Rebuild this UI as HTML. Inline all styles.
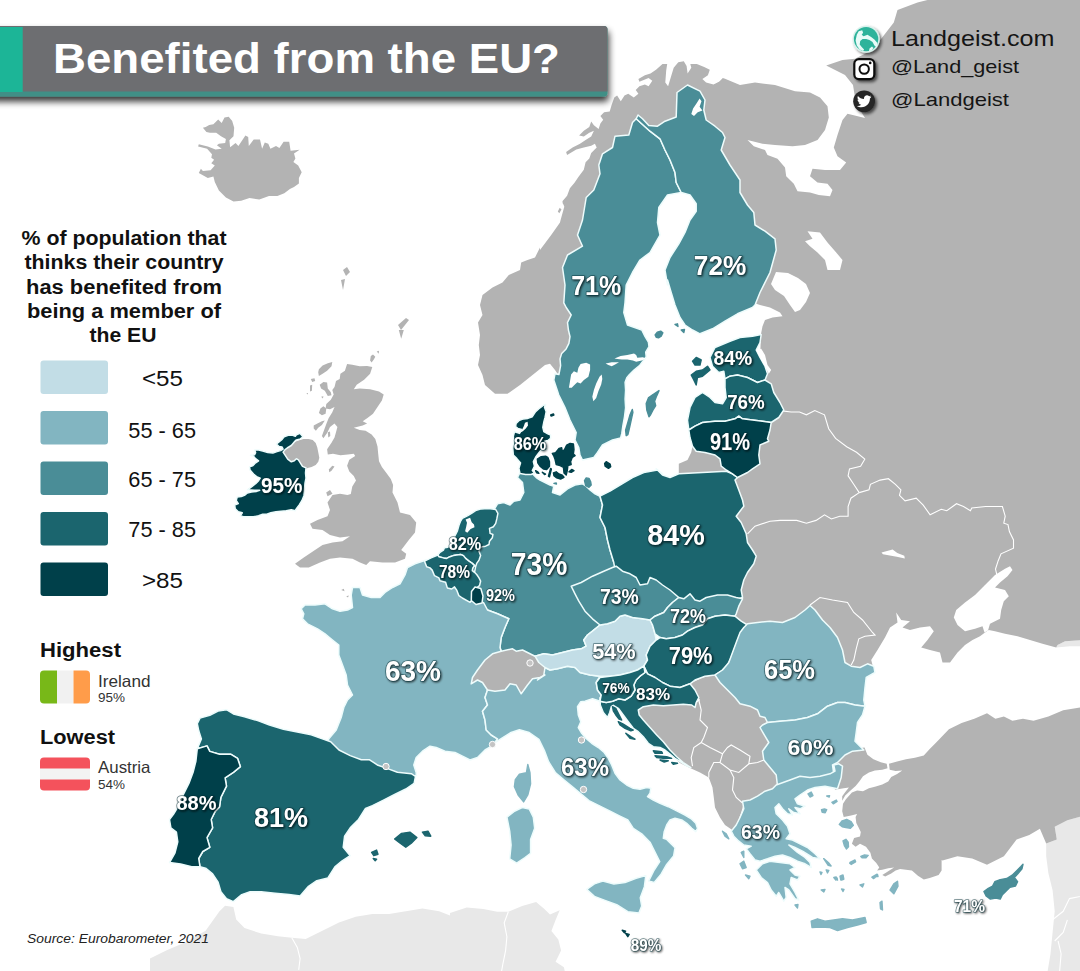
<!DOCTYPE html>
<html><head><meta charset="utf-8"><title>Benefited from the EU?</title>
<style>
html,body{margin:0;padding:0;background:#fff;}
body{width:1080px;height:971px;overflow:hidden;position:relative;font-family:"Liberation Sans",sans-serif;}
svg{position:absolute;left:0;top:0;display:block}
svg text{font-family:"Liberation Sans",sans-serif;}
.eu{stroke:#eefcfc;stroke-width:1.5;stroke-linejoin:round}
.lbl text{fill:#fff;font-weight:bold;paint-order:stroke;stroke:#0a3037;stroke-width:1.6px;stroke-opacity:.55;stroke-linejoin:round}
</style></head>
<body>
<svg width="1080" height="971" viewBox="0 0 1080 971">
<defs>
<filter id="sh" x="-5%" y="-30%" width="110%" height="180%"><feGaussianBlur in="SourceAlpha" stdDeviation="3.6"/><feOffset dx="1" dy="4.500"/><feComponentTransfer><feFuncA type="linear" slope=".8"/></feComponentTransfer><feMerge><feMergeNode/><feMergeNode in="SourceGraphic"/></feMerge></filter>
<filter id="ish" x="-40%" y="-40%" width="200%" height="200%"><feGaussianBlur in="SourceAlpha" stdDeviation="1.6"/><feOffset dx="2" dy="2"/><feComponentTransfer><feFuncA type="linear" slope=".6"/></feComponentTransfer><feMerge><feMergeNode/><feMergeNode in="SourceGraphic"/></feMerge></filter>
<filter id="tsh" x="-20%" y="-20%" width="140%" height="140%"><feGaussianBlur in="SourceAlpha" stdDeviation="1.1"/><feOffset dx="0.6" dy="0.8"/><feComponentTransfer><feFuncA type="linear" slope=".75"/></feComponentTransfer><feMerge><feMergeNode/><feMergeNode in="SourceGraphic"/></feMerge></filter>
</defs>
<rect width="1080" height="971" fill="#ffffff"/>
<g class="map">
<path d="M150,969.9 L150,958.5 L166.7,950.2 L186.1,941.9 L205.6,930.7 L219.5,911.3 L225.1,905.7 L233.4,907.1 L236.2,919.6 L244.5,928 L261.2,933.5 L277.9,936.3 L291.8,937.7 L305.7,939.1 L322.4,930.7 L339,922.4 L355.7,916.8 L372.4,914.1 L389.1,914.1 L405.8,911.3 L422.4,908.5 L439.1,911.3 L450,915.5 L450,913.1 L466.7,907.5 L483.3,908.9 L497.2,911.7 L508.3,911.7 L522.2,906.1 L536.1,901.9 L544.4,908.9 L550,914.4 L559.7,910.3 L555.6,920 L551.4,931.1 L558.3,939.4 L561.1,950.6 L555.6,961.7 L563.9,967.2 L566.7,980 L566,980 L150,980Z" fill="#e8e8e8" stroke="none"/>
<path d="M1046.2,843.6 L1056.8,839.4 L1054.7,826.7 L1067.4,820.3 L1090,814 L1090,980 L1046.2,980 L1050.5,953.7 L1052.6,932.5 L1054.7,911.3 L1052.6,890.2 L1048.4,873.2 L1046.2,856.3Z" fill="#e8e8e8" stroke="none"/>
<path d="M1057.5,645 L1065,641.2 L1090,639.5 L1090,646.2 L1070,646.2 L1056.2,647.5Z" fill="#e8e8e8" stroke="none"/>
<path d="M202.9,127.8 L205.7,127.1 L209.2,125 L213.4,124.3 L218.2,119.5 L221.7,122.9 L224.5,117.4 L228.7,116.7 L232.2,120.9 L234.2,127.8 L233.5,136.2 L229.4,140.3 L230.1,147.3 L235.6,143.1 L238.4,145.9 L245.4,135.5 L248.2,136.9 L248.8,145.9 L253.7,139.6 L260,139.6 L262.1,148.7 L264.8,142.4 L268.3,143.8 L270.4,148.7 L276,145.9 L279.4,148 L283.6,141.7 L289.2,141.7 L290.6,150.8 L299.6,149.8 L294,153.5 L295.4,158.4 L293.4,161.9 L298.2,165.4 L301.7,172.3 L298.9,177.9 L298.9,183.4 L294,186.9 L289.9,189 L284.3,193.2 L277.4,196 L269,196 L259.3,199.4 L249.5,198.1 L241.2,200.8 L233.5,201.5 L225.9,197.4 L218.9,190.4 L214.8,182.1 L213.4,176.5 L207.8,177.9 L198.8,173 L200.9,168.8 L202.9,170.9 L210.6,170.2 L214.8,165.4 L211.3,163.3 L214.1,159.8 L211.3,157.7 L212,154.2 L207.1,148.7 L198.1,146.6 L198.8,144.2 L207.8,146.6 L215.5,149.4 L221.7,148.7 L216.9,145.2 L218.9,143.8 L225.2,143.1 L225.9,138.9 L221,136.2 L216.2,132.7 L209.9,132.7 L206.4,132Z" fill="#b3b3b3" stroke="none"/>
<path d="M347.1,364.1 L352.3,364.8 L359.7,366.3 L367.1,366 L372.3,367.1 L370.1,373.7 L364.1,379.7 L356.7,384.8 L353.8,389.3 L359.7,388.6 L370.1,389.3 L379,391.5 L383.7,394.5 L381.9,400.4 L377.5,407.1 L373,413.8 L367.1,418.2 L362.7,421.2 L367.1,423.4 L362.7,425.6 L356.7,427.1 L353.8,427.8 L359.7,430.1 L365.6,430.8 L371.6,434.5 L375.3,439 L377.5,446.4 L378.2,453.8 L379,461.2 L381.9,467.1 L386.4,473.1 L390.8,479 L393.1,484.9 L392.5,492.5 L397.5,502.5 L400,512.5 L410,515 L416.2,522.5 L415,532.5 L408.8,540 L405,545 L401.2,550 L406.2,553.8 L405,558.8 L395,562.5 L382.5,562.5 L370,561.2 L366.2,565 L360,562.5 L352.5,558.8 L340,557.5 L330,558.8 L320,562.5 L308.8,567.5 L300,567.5 L295,563.8 L303.8,557.5 L315,550 L322.5,545 L332.5,542.5 L342.5,541.2 L350,536.2 L340,537.5 L330,535 L322.5,530 L312.5,528.8 L310,523.8 L317.5,520 L327.5,516.2 L330,510 L327.5,502.5 L332.5,495 L340,493.8 L347.5,495 L350.8,494 L352.3,486.4 L356,480.5 L353.8,476 L349.3,471.6 L347.1,465.7 L349.3,459.7 L355.2,456 L353.8,453.8 L347.8,454.5 L340.4,455.3 L333,453.8 L327.8,454.5 L327.1,449.3 L331.5,442.7 L334.5,437.5 L336,432.3 L337.4,427.1 L334.5,423.4 L330,427.1 L327.1,433 L323.4,438.2 L321.9,436 L324.1,430.1 L326.3,424.1 L328.6,418.2 L332.3,412.3 L334.5,407.1 L330,409.3 L325.6,408.6 L326.3,404.1 L330.8,399.7 L333.7,394.5 L332.3,390 L334.5,387.1 L336,381.1 L339.7,378.9 L340.4,373.7 L344.9,370.8 L347.1,364.1Z" fill="#b3b3b3" stroke="none"/>
<path d="M318.9,369.3 L322.6,365.6 L327.8,363.3 L332.3,361.9 L331.5,366.3 L327.1,370.8 L322.6,373.7 L318.9,375.9 L318.2,372.2Z M310.8,378.9 L314.5,378.2 L315.2,381.1 L312.2,381.9Z M310,385.6 L312.2,384.8 L311.9,390.8 L310,391.5Z M306.3,393.3 L308.1,393 L307.8,394.5Z M319.7,384.8 L323.4,381.9 L327.1,382.6 L327.8,388.6 L330.8,392.3 L331.5,395.2 L327.8,396 L324.8,390.8 L321.1,388.6Z M321.1,396.7 L323.4,396.3 L322.9,398.6Z M318.9,413 L320.4,408.6 L323.4,406.3 L326.3,408.6 L325.6,413.8 L321.9,415.2Z M313.7,425.6 L317.4,423.4 L321.9,421.2 L324.8,420.4 L321.9,424.9 L318.2,427.8 L315.9,430.8 L313.7,428.6Z M327.8,432.3 L330,431.6 L330.3,436 L328.3,437.5Z M328.8,469.4 L332.3,465.7 L334.5,466.4 L331.5,470.8 L329.3,472.3Z M370.8,355.9 L373,354.4 L375.3,356.7 L373.8,359.6 L371.6,362.6 L370.1,360.4Z M376.7,351.5 L379,350.7 L378.7,353.7Z M398.8,330 L403.8,330 L401.2,338.8Z M326.2,492.5 L330,490 L332.5,493.8 L327.5,496.2Z M341.2,590 L343.8,588.8 L344.5,591.2Z M346.2,596.2 L348.8,595.5 L348,597.5Z" fill="#b3b3b3" stroke="none"/>
<path d="M282.1,452.6 L285.1,449.6 L287.2,448 L291.3,445.5 L294.3,441.9 L298.4,440.4 L303.5,438.9 L308.6,438.9 L312.7,439.9 L315.7,442.9 L317.3,447.5 L318.3,452.6 L319.3,457.7 L318.3,461.8 L315.7,464.9 L311.6,466.9 L307.6,467.9 L306,468.9 L301.5,466.9 L299.9,464.3 L297.9,460.8 L296.4,459.8 L294.3,461.8 L290.7,462.8 L286.7,459.8 L284.1,455.7Z" fill="#b3b3b3" stroke="none"/>
<path d="M343,270 L347,267 L350,272 L346,276Z M341,280 L345,279 L343,290Z M398,325 L406,318 L409,320 L401,330Z" fill="#b3b3b3" stroke="none"/>
<path d="M557.5,373.8 L555,370 L550,363.8 L545,365 L532.5,375 L520,385 L507.5,393.8 L495,393.8 L485,385 L482.5,375 L478,365 L480,355 L478.8,345 L480,335 L478,322.5 L482.5,315 L480,305 L482.5,295 L492.5,287.5 L502.5,282.5 L508.8,275 L520,270 L521.2,262.5 L527.5,260 L535,257.5 L540,247.5 L540,250 L551.2,235 L560,222.5 L560.6,220 L564.3,206.8 L562.4,201.3 L567.1,195.7 L569.9,188.3 L574.5,182.7 L578.2,177.2 L583.8,169.7 L585.6,162.3 L589.3,158.6 L591.2,153.1 L596.7,147.5 L594.9,143.8 L591.2,145.7 L583.8,147.5 L576.3,149.4 L567.1,154.9 L566.1,152.1 L572.6,147.5 L580,143.8 L585.6,140.1 L591.2,136.4 L593.9,130.8 L589.3,132.7 L583.8,136.4 L579.1,135.5 L583.8,130.8 L589.3,127.1 L591.2,121.6 L593.9,125.3 L598.6,129 L600.4,123.4 L603.2,119.7 L600.4,116 L604.1,112.3 L609.7,111.4 L611.6,104.9 L614.3,97.5 L617.1,95.6 L620.8,101.2 L624.5,95.6 L628.2,93.8 L633.8,97.5 L638.4,93.8 L635.7,90 L639.4,86.3 L644.9,84.5 L648.6,86.3 L652.3,80.8 L648.6,78 L639.4,81.7 L638.4,78.9 L644.9,75.2 L650.5,73.4 L656,69.7 L662.5,64.1 L667.2,64.1 L666.2,70.6 L665.3,82.6 L668.1,86.3 L670.9,77.1 L673.7,67.8 L678.3,62.2 L683.8,61.3 L686.6,65.9 L687.6,73.4 L691.3,67.8 L690.3,64.1 L696.8,64.1 L704.2,66.9 L709.8,69.7 L707.9,75.2 L702.4,78.9 L706.1,82.6 L713.5,84.5 L719.1,81.7 L722.8,78 L725,78.8 L722.5,90 L725,79 L722,100 L712,130 L690,140 L640,200 L600,300 L590,370Z" fill="#b3b3b3" stroke="none"/>
<path d="M557.8,211.5 L559.7,207.7 L561.5,209.6 L559.3,213.3Z M562.4,203.1 L565.2,198.5 L567.1,200.3 L564.3,205Z" fill="#b3b3b3" stroke="none"/>
<path d="M725,78.8 L740,85 L755,82.5 L775,85 L795,91.2 L810,92.5 L820,97.5 L827.5,106.2 L828.8,117.5 L825,130 L817.5,140 L805,145 L792.5,146.2 L775,145 L762.5,143.8 L747.5,140 L753.8,146.2 L765,150 L767.5,155 L777.5,158.8 L785,167.5 L786.2,176.2 L793.8,183.8 L797.5,191.2 L810,192.5 L818.8,195 L830,196.2 L832.5,190 L827.5,183.8 L817.5,182.5 L810,176.2 L812.5,168.8 L825,170 L840,170 L846.2,162.5 L837.5,156.2 L833.8,147.5 L837.5,135 L842.5,120 L847.5,113.8 L865,118 L860,110 L855,97.5 L853,85 L845,75 L826.2,65.5 L842.5,60 L855,58.8 L872.5,50 L893.8,22.5 L897.5,10 L917.5,2.5 L927.5,0 L1090,0 L1090,639.5 L1065,641.2 L1057.5,645 L1056.2,647.5 L1042.5,643.8 L1030,640 L1017.5,636.2 L1005,633.8 L995,631.2 L988.8,630 L985,632.5 L980,636.2 L972.5,640 L965,645 L957.5,652.5 L950,662.5 L942.5,662.5 L940,652.5 L930,650 L921.2,647.5 L927.5,640 L933.8,631.2 L930,626.2 L920,627.5 L910,630 L902.5,627.5 L910,621.2 L901.2,620 L896.2,612.5 L897.5,622.5 L890,627.5 L885,637.5 L877.5,650 L871.2,660 L873.8,670 L872,672 L850,676 L800,650 L770,640 L728,628 L714,600 L712,560 L700,500 L720,470 L745,440 L760,400 L760,360 L761,334 L762.5,326.2 L765,320 L772.5,317.5 L782.5,316.2 L780,312.5 L770,307.5 L760,305 L745,300 L715,200 L700,150 L692,110 L705,90Z" fill="#b3b3b3" stroke="none"/>
<path d="M692.5,446.2 L696.2,451.2 L705,452.5 L715,455 L720,458.8 L721.2,466.2 L726.2,470 L726.2,472.5 L702.5,473.8 L678.8,475 L678.8,463.8 L687.5,460 L691.2,452.5Z" fill="#b3b3b3" stroke="none"/>
<path d="M834.8,789.7 L837.1,781.5 L839.3,772.6 L837.1,768.2 L832.6,764.5 L837.1,757.1 L845.2,751.1 L853.4,748.9 L864.5,747.4 L867.4,754.8 L873.4,759.3 L880.8,762.2 L886.7,763.7 L887.5,768.2 L882.3,769.7 L874.9,770.4 L868.9,772.6 L863,776.3 L859.3,781.5 L855.6,786 L849.7,791.2 L845.2,795.6 L842.2,800.8 L842.2,796.3 L845.9,791.2 L848.9,787.4 L843.7,788.2Z" fill="#b3b3b3" stroke="none"/>
<path d="M889,763.7 L897.1,761.5 L906,759.3 L914.9,757.8 L923.8,755.6 L929.7,748.9 L934.2,744.4 L938.6,740 L948.9,729.3 L961.6,723 L974.3,718.7 L987,713.2 L995.4,718.7 L1003.9,716.6 L1012.4,720.8 L1023,718.7 L1033.5,720.8 L1048.4,716.6 L1063.2,710.3 L1090,706 L1090,814 L1067.4,820.3 L1054.7,826.7 L1056.8,839.4 L1046.2,843.6 L1039.9,828.8 L1029.3,835.1 L1016.6,839.4 L1003.9,856.3 L987,864.8 L972.2,858.4 L957.4,856.3 L942.5,860.5 L941.6,860.1 L941.6,870.5 L938.6,874.9 L929.7,877.9 L923.8,879.4 L917.9,875.7 L911.9,870.5 L906,869.7 L900.1,869 L895.6,870.5 L891.2,873.5 L885.2,876.4 L882.3,874.9 L888.2,871.2 L894.1,867.5 L888.2,868.3 L882.3,869.7 L877.1,870.5 L879.3,867.5 L876.3,863.1 L871.9,858.6 L870.4,852.7 L866,846.8 L860,843.8 L855.6,846.8 L851.9,843.8 L854.1,837.9 L860,836.4 L860.8,831.9 L858.6,827.5 L856.3,823 L855.6,817.1 L857.1,814.1 L851.1,815.6 L843.7,817.1 L842.2,811.2 L843,803.8 L845.9,799.3 L849.7,794.9 L851.9,792.6 L857.1,790.4 L863,791.2 L868.9,788.2 L874.9,786.7 L882.3,784.5 L888.2,781.5 L891.2,777.1 L897.1,774.1 L902.3,770.4 L895.6,771.1 L889.7,769.7Z" fill="#b3b3b3" stroke="none"/>
<path d="M690,683.8 L702.5,677.5 L715,675 L720,682.5 L727.5,690 L735,697.5 L740,703.8 L750,706.2 L757.5,710 L760,716.2 L765,717.5 L767.5,722.5 L762.5,725 L760,727.5 L765,736.2 L768.8,742.5 L762.5,751.2 L763.8,760 L770,767.5 L776.2,775 L780,783.8 L770,791.2 L760,795 L750,800 L743.8,803.8 L741.2,812.5 L737.5,822.5 L733,830.5 L725,825 L720,817.5 L715,807.5 L713.8,797.5 L712.5,787.5 L708.8,777.5 L700,772.5 L690,768 L680,763 L668,752 L655,740 L645,728 L638,716 L634,706 L650,703.8 L662.5,705 L672.5,703.8 L682.5,705 L693.8,705 L700,700 L695,692.5Z" fill="#b3b3b3" stroke="none"/>
<path d="M471.2,683.8 L472.5,677.5 L477.5,670 L485,660 L492.5,653.8 L501.2,651.2 L512.5,648.8 L516.2,651.2 L522.5,650 L530,653.8 L537.5,656.2 L545,665 L548.8,672.5 L547.5,677.5 L540,677.5 L532.5,678.8 L527.5,685 L521.2,693.8 L516.2,685 L510,683.8 L505,690 L495,691.2 L487.5,690 L482.5,682.5 L477.5,680Z" fill="#b3b3b3" stroke="none"/>
<path d="M807.5,231.2 L820,232.5 L827.5,242.5 L836.2,252.5 L842.5,260 L840,270 L827.5,270 L825,260 L817.5,252.5 L810,246.2 L805,241.2 L812.5,238.8Z" fill="#fff" stroke="none"/>
<path d="M776,272 L788,273 L798,278 L806,284 L810,293 L806,302 L800,310 L795,312 L790,305 L784,296 L775,290 L771,284Z" fill="#fff" stroke="none"/>
<path d="M953.8,617.5 L956.2,610 L965,602.5 L975,595 L985,585 L995,575 L1005,568.8 L1010,566.2 L1012.5,570 L1007.5,576.2 L1000,582.5 L995,587.5 L1005,590 L1008.8,596.2 L1003.8,601.2 L1001.2,610 L1000,618.8 L990,623.8 L988,630.5 L984.5,632.5 L982.5,626.2 L975,628.8 L965,631.2 L957.5,625Z" fill="#fff" stroke="none"/>
<path d="M881.5,552.4 L892.6,549.6 L897.3,552.9 L904.3,555.7 L904.8,558.5 L896.8,556.8 L889.8,555.4 L882.9,554.3Z" fill="#fff" stroke="none"/>
<path d="M780,410.6 L791.1,412 L799.5,412 L806.4,414.8 L814.8,410.6 L824.5,414.8 L828.7,428.7 L835.6,438.4 L846.7,446.7 L856.5,452.3 L864.8,459.2 L860.6,466.2 L849.5,469 L848.1,475.9 L853.7,484.3 L859.2,492.6" fill="none" stroke="#fff" stroke-width="1.1"/>
<path d="M859.2,492.6 L850.9,498.2 L848.1,506.5 L848.1,516.2 L839.8,516.2 L831.4,519 L824.5,514.8 L816.1,520.4 L806.4,523.2 L796.7,520.4 L780,520.4 L770,521.2 L755,526.2 L747.5,533.8" fill="none" stroke="#fff" stroke-width="1.1"/>
<path d="M859.2,492.6 L869,489.8 L870.4,484.3 L880.1,480.1 L888.4,478.7 L895.4,484.3 L900.9,489.8 L899.5,495.4 L905.1,500.9 L916.2,498.2 L923.2,505.1 L930.1,514.8 L941.2,509.3 L946.8,510.7 L956.5,503.7 L963.5,506.5 L970.4,510.7 L971.8,507.9 L985.7,506.5 L1002.4,506.5 L1005.2,516.2 L1003.8,523.2 L1008,524.6 L1009.4,531.5 L1013.5,539.9 L1013.5,548.2 L1001,553.8 L998.2,560.7 L995.5,569 L996.8,574.6" fill="none" stroke="#fff" stroke-width="1.1"/>
<path d="M810,605 L820,597.5 L832.5,600 L847.5,602.5 L853.8,612.5 L862.5,620 L872.5,632.5 L875,635 L865,636.2 L858.8,638.8 L856.2,648.8 L853.8,660 L851.2,665" fill="none" stroke="#fff" stroke-width="1.1"/>
<path d="M698.8,700 L701.2,710 L700,720 L707.5,727.5 L703.8,737.5 L701.2,742.5 L693.8,747.5 L691.2,757.5 L692.5,766.2" fill="none" stroke="#fff" stroke-width="1.1"/>
<path d="M701.2,742.5 L710,747.5 L722.5,753.8 L727.5,747.5 L731.2,745 L740,750 L750,756.2 L748.8,763.8 L757.5,762.5 L763.8,760" fill="none" stroke="#fff" stroke-width="1.1"/>
<path d="M722.5,753.8 L720,762.5 L730,770 L738.8,772.5 L747.5,765 L748.8,763.8" fill="none" stroke="#fff" stroke-width="1.1"/>
<path d="M708.8,777.5 L708.8,772.5 L713.8,762.5 L720,762.5" fill="none" stroke="#fff" stroke-width="1.1"/>
<path d="M730,770 L733.8,777.5 L732.5,790 L736.2,797.5 L742.5,803" fill="none" stroke="#fff" stroke-width="1.1"/>
<path d="M291.8,937.7 L297.3,947.4 L300.1,958.5 L298.7,969.9" fill="none" stroke="#fff" stroke-width="1.1"/>
<path d="M508.3,911.7 L504.2,922.8 L506.9,936.7 L505.6,950.6 L502.8,964.4 L500,980" fill="none" stroke="#fff" stroke-width="1.1"/>
<path d="M1052.6,919.8 L1063.2,911.3 L1069.5,898.6 L1090,894.4 M1054.7,941 L1063.2,932.5 L1067.4,919.8 M1058.9,980 L1061.1,953.7 L1058.1,941" fill="none" stroke="#fff" stroke-width="1.1"/>
<path class="eu" d="M520,472.5 L532.5,473.8 L536.2,477.5 L540,480 L550,485 L553.8,486.2 L552.5,492.5 L560,495 L567.5,488.8 L575,485 L582.5,483.8 L586.2,486.2 L590,490 L595,493.8 L600,496.2 L602.5,505 L600,517.5 L605,527.5 L607.5,540 L610,550 L613.8,562.5 L617.5,570 L610,571.2 L602.5,576.2 L593.8,581.2 L585,585 L577.5,587.5 L580,592.5 L585,601.2 L592.5,608.8 L600,615 L603.8,622.5 L600,625 L592.5,631.2 L587.5,635 L583.8,640 L586.2,646.2 L581.2,648.8 L572.5,650 L562.5,652.5 L552.5,655 L543.8,653.8 L535,656.2 L530,653.8 L522.5,650 L516.2,651.2 L512.5,648.8 L501.2,651.2 L500,647.5 L501.2,637.5 L505,627.5 L508.8,618.8 L497.5,613.8 L487.5,610 L482.5,605 L480,602.5 L475,596.2 L475,588.8 L475,582.5 L473.8,575 L472.5,566.2 L473.8,560 L476.2,552.5 L477.5,546.2 L483.8,543.8 L487.5,535 L486.2,527.5 L491.2,520 L493.8,510 L497.5,503.8 L503.8,502.5 L510,505 L513.8,501.2 L520,500 L523.8,492.5 L522.5,482.5 L517.5,477.5Z" fill="#4a8d97"/>
<path d="M584.5,480.7 L586.2,477.9 L589,478.4 L590.7,481.8 L591.2,485.1 L589,487.3 L585.7,485.7Z M553.9,483.4 L556.2,482.9 L556.5,484Z" fill="#4a8d97" stroke="#4a8d97" stroke-width="1.4" stroke-linejoin="round"/>
<path class="eu" d="M426.2,560 L431.2,567 L438,572 L443,578.2 L449.2,580.8 L453,587 L460.5,589.5 L466.8,594.5 L473,598.2 L480,600.8 L483.8,603 L487.5,610 L497.5,613.8 L508.8,618.8 L505,627.5 L501.2,637.5 L500,647.5 L501.2,651.2 L492.5,653.8 L485,660 L477.5,670 L472.5,677.5 L471.2,683.8 L477.5,680 L482.5,682.5 L487.5,690 L485,697.5 L487.5,705 L482.5,711.2 L485,720 L486.2,730 L491.2,735 L497.5,738.8 L493.8,745 L485,750 L477.5,757.5 L470,760 L462.5,756.2 L455,752.5 L445,751.2 L436.2,747.5 L430,746.2 L422.5,751.2 L416.2,757.5 L413.8,765 L416.2,772.5 L416.2,775.5 L407.5,777.5 L397.5,776.2 L387.5,771.2 L380,767.5 L371.2,763.8 L362.5,761.2 L352.5,757.5 L342.5,752.5 L333.8,748.8 L327.5,741.2 L328.8,738.8 L336.2,730 L341.2,717.5 L343.8,707.5 L347.5,700 L352.5,695 L347.5,685 L346.2,675 L342.5,665 L338.8,655 L338.8,645 L332.5,640 L325,633.8 L317.5,628.8 L307.5,623.8 L302.5,618.8 L303.8,613.8 L301.2,608.8 L305,605 L315,605 L325,603.8 L332.5,608.8 L340,611.2 L347.5,610 L352.5,607.5 L351.2,595 L352.5,587.5 L360,587.5 L362.5,595 L371.2,597.5 L380,597.5 L385,592.5 L392.5,587.5 L400,583.8 L405,575 L407.5,567.5 L415,563.8Z" fill="#82b5c1"/>
<path d="M515.3,779.7 L519.4,774.2 L526.4,772.8 L527.8,764.4 L530,772.8 L530.6,783.9 L527.8,795 L523.6,801.9 L518.1,795 L514.4,786.7Z" fill="#82b5c1" stroke="#82b5c1" stroke-width="1.4" stroke-linejoin="round"/>
<path class="eu" d="M600,496.2 L610,491.2 L620,485 L632.5,477.5 L643.8,472.5 L657.5,470 L662.5,473.8 L656.2,468.8 L662.5,475 L670,477.5 L678.8,473.8 L702.5,472.5 L726.2,471.2 L732.5,473.8 L737.5,477.5 L735,480 L738.8,490 L742.5,500 L743.8,506.2 L736.2,516.2 L741.2,522.5 L746.2,533.8 L747.5,542.5 L752.5,550 L756.2,556.2 L753.8,563.8 L747.5,572.5 L743.8,580 L741.2,590 L742.5,597.5 L735,600 L725,597.5 L715,597.5 L706.2,601.2 L700,605 L693.8,602.5 L688.8,598.8 L685,602.5 L677.5,600 L672.5,593.8 L665,590 L657.5,583.8 L650,582.5 L646.2,586.2 L669.8,593.8 L665,591.2 L657.5,588.8 L650,583.8 L646.2,587.5 L637.5,583.8 L632.5,577.5 L625,578.8 L621.2,573.8 L615,570 L613.8,562.5 L610,550 L607.5,540 L605,527.5 L600,517.5 L602.5,505Z" fill="#1b656e"/>
<path class="eu" d="M197.3,723.6 L200,718.1 L209.8,715.3 L218.1,711.1 L226.5,709.7 L233.4,713.9 L244.5,716.7 L258.4,720.9 L269.5,725 L283.4,729.2 L297.3,732 L311.2,734.8 L322.4,738.9 L330.7,741.7 L339,750 L350.2,755.6 L361.3,759.8 L369.6,759.8 L378,765.3 L386.3,768.1 L397.4,772.3 L411.3,773.7 L415.5,776.5 L414.1,783.4 L405.8,789 L394.6,794.5 L383.5,800.1 L372.4,805.6 L365.5,808.4 L358.5,819.5 L350.2,827.9 L344.6,836.2 L343.2,847.3 L350.2,855.7 L341.8,861.2 L334.9,866.8 L327.9,877.9 L316.8,880.7 L308.5,886.3 L300.1,896 L289,894.6 L275.1,893.2 L261.2,891.8 L250.1,891.8 L241.7,894.6 L233.4,901.6 L226.5,898.8 L220.9,891.8 L218.1,882.1 L212.6,873.8 L205.6,868.2 L200,866.8 L198.7,858.5 L202.8,851.5 L209.8,847.3 L207,837.6 L212.6,827.9 L211.2,819.5 L215.3,811.2 L219.5,807 L220.9,797.3 L226.5,786.2 L225.1,777.8 L233.4,772.3 L240.4,766.7 L237.6,758.4 L230.6,754.2 L219.5,754.2 L209.8,751.4 L207,745.9 L197.3,748.7 L201.4,738.9 L198.7,730.6Z" fill="#1b656e"/>
<path d="M394.6,839 L401.6,833.4 L409.9,832.1 L416.9,837.6 L411.3,843.2 L405.8,847.3 L400.2,843.2Z M422.4,832.1 L428,831.2 L430.8,836.2 L425.2,835.7Z M371.6,852.3 L376.6,850.1 L378,854.3 L373.8,855.7Z M373.2,858.5 L376.6,859.3 L375.2,860.7Z" fill="#1b656e" stroke="#1b656e" stroke-width="1.4" stroke-linejoin="round"/>
<path class="eu" d="M197.3,748.7 L207,745.9 L209.8,751.4 L219.5,754.2 L230.6,754.2 L237.6,758.4 L240.4,766.7 L233.4,772.3 L225.1,777.8 L226.5,786.2 L220.9,797.3 L219.5,807 L215.3,811.2 L211.2,819.5 L212.6,827.9 L207,837.6 L209.8,847.3 L202.8,851.5 L198.7,858.5 L200,866.8 L191.7,866.8 L180.6,864 L169.5,862.6 L175,852.9 L177.8,841.8 L176.4,832.1 L170.9,827.9 L169.5,819.5 L173.6,814 L177.8,807 L183.4,794.5 L188.9,783.4 L193.1,772.3 L195.9,761.2Z" fill="#00404a"/>
<path class="eu" d="M493.8,745 L497.5,738.8 L491.2,735 L486.2,730 L485,720 L482.5,711.2 L487.5,705 L485,697.5 L487.5,690 L495,691.2 L505,690 L510,683.8 L516.2,685 L521.2,693.8 L527.5,685 L532.5,678.8 L540,677.5 L545,675 L537.5,680 L543.8,675 L545,667.5 L550,670 L557.5,668.8 L567.5,666.2 L575,667.5 L580,672.5 L590,675 L600,676.2 L596.2,682.5 L597.5,690 L601.2,695 L600,701.2 L592.5,698.8 L585,701.2 L580.8,701.7 L577.5,706.7 L578.3,715 L580.8,721.7 L578.3,727.5 L581.7,733.3 L585.8,738.3 L591.7,743.3 L598.3,747.5 L604.2,752.5 L608.3,758.3 L611.7,765 L615,773.3 L620,780 L626.7,785 L633.3,788.3 L640,789.2 L646.7,787.5 L650.8,788.3 L650,793.3 L647.5,796.7 L653.3,800 L660,803.3 L668.3,806.7 L676.7,810.8 L685,815 L691.7,819.2 L695.8,823.3 L697.5,828.3 L695.8,831.7 L691.7,828.3 L686.7,823.3 L681.7,820 L675,818.3 L670,820 L666.7,825 L664.2,831.7 L663.3,838.3 L666.7,839.4 L675,847.8 L673.6,856.1 L666.7,864.4 L661.1,874.2 L654.2,882.5 L648.6,881.1 L654.2,870 L659.7,861.7 L655.6,853.3 L650,842.2 L641.7,833.9 L633.3,828.3 L627.8,820 L619.4,815.8 L611.1,811.7 L600,806.1 L588.9,800.6 L580.6,793.6 L572.2,786.7 L563.9,779.7 L555.6,772.8 L548.6,761.7 L544.4,750.6 L538.9,739.4 L529.2,732.5 L519.4,729.7 L511.1,732.5 L500,739.4 L491.7,745Z" fill="#82b5c1"/>
<path class="eu" d="M586.7,889.4 L594.4,883.9 L602.8,881.1 L613.9,883.9 L625,882.5 L636.1,878.3 L645.8,875.6 L644.4,886.7 L640.3,897.8 L641.7,906.1 L638.9,913.1 L627.8,911.7 L616.7,904.7 L605.6,900.6 L594.4,896.4Z" fill="#82b5c1"/>
<path class="eu" d="M506.9,817.2 L513.9,811.7 L522.2,807.5 L529.2,808.9 L533.3,817.2 L534.7,828.3 L530.6,839.4 L530.6,853.3 L525,857.5 L516.7,863.1 L509.7,858.9 L511.1,845 L509.7,831.1Z" fill="#82b5c1"/>
<path class="eu" d="M583.8,640 L587.5,635 L592.5,631.2 L600,625 L607.5,623.8 L615,621.2 L620,616.2 L625,615 L632.5,617.5 L642.5,618.8 L650,620 L652.5,625 L655,633.8 L656.2,640 L650,646.2 L646.2,655 L647.5,660 L643.8,666.2 L637.5,670 L630,672.5 L620,675 L610,676.2 L600,676.2 L590,675 L580,672.5 L575,667.5 L567.5,666.2 L557.5,668.8 L550,670 L545,667.5 L538.8,662.5 L535,656.2 L543.8,653.8 L552.5,655 L562.5,652.5 L572.5,650 L581.2,648.8 L586.2,646.2Z" fill="#c2dde6"/>
<path class="eu" d="M571.2,586.2 L581.2,582.5 L592.5,576.2 L603.8,571.2 L612.5,567.5 L616.2,566.2 L622.5,571.2 L630,573.8 L636.2,577.5 L640,585 L647.5,583.8 L650,577.5 L656.2,580 L662.5,585 L670,590 L678.8,597.5 L672.5,602.5 L667.5,607.5 L663.8,612.5 L655,616.2 L650,620 L642.5,618.8 L632.5,617.5 L625,615 L620,616.2 L615,621.2 L607.5,623.8 L600,625 L592.5,618.8 L585,611.2 L578.8,601.2 L575,593.8Z" fill="#4a8d97"/>
<path class="eu" d="M678.8,597.5 L683.8,598.8 L690,593.8 L695,600 L700,601.2 L706.2,597.5 L717.5,595 L727.5,595 L736.2,597.5 L742.5,598.8 L738.8,606.2 L736.2,613.8 L735,616.2 L725,615 L715,616.2 L707.5,618.8 L702.5,625 L695,627.5 L687.5,631.2 L682.5,635 L675,637.5 L666.2,638.8 L660,637.5 L655,633.8 L652.5,625 L650,620 L655,616.2 L663.8,612.5 L667.5,607.5 L672.5,602.5Z" fill="#4a8d97"/>
<path class="eu" d="M656.2,640 L660,637.5 L666.2,638.8 L675,637.5 L682.5,635 L687.5,631.2 L695,627.5 L702.5,625 L707.5,618.8 L715,616.2 L725,615 L735,616.2 L741.2,621.2 L747.5,625 L742.5,631.2 L738.8,637.5 L735,647.5 L731.2,657.5 L727.5,665 L721.2,671.2 L715,675 L705,676.2 L695,680 L690,683.8 L680,687.5 L670,686.2 L662.5,682.5 L655,677.5 L647.5,673.8 L643.8,666.2 L647.5,660 L646.2,655 L650,646.2Z" fill="#1b656e"/>
<path class="eu" d="M747.5,623.8 L757.5,622.5 L770,621.2 L782.5,622.5 L795,617.5 L805,610 L810,605.5 L815,610 L822.5,620 L830,627.5 L837.5,637.5 L842.5,650 L845,662.5 L851.2,666.2 L860,667.5 L867.5,663.8 L873.8,666.2 L875,672.5 L866.2,677.5 L865,687.5 L863.8,700 L865,706.2 L855,705 L845,702.5 L837.5,702.5 L827.5,706.2 L817.5,713.8 L807.5,717.5 L795,720 L780,721.2 L767.5,722.5 L765,717.5 L760,716.2 L757.5,710 L750,706.2 L740,703.8 L735,697.5 L727.5,690 L720,682.5 L715,675 L722.5,670 L728.8,662.5 L732.5,652.5 L736.2,642.5 L740,632.5 L743.8,627.5Z" fill="#82b5c1"/>
<path class="eu" d="M767.5,722.5 L780,721.2 L795,720 L807.5,717.5 L817.5,713.8 L827.5,706.2 L837.5,702.5 L845,702.5 L855,705 L865,706.2 L862.5,715 L857.5,722.5 L856.2,732.5 L855,741.2 L863.8,750 L852.5,751.2 L845,755 L837.5,762.5 L832.5,765 L833.8,773.8 L825,777.5 L815,778.8 L805,777.5 L795,781.2 L785,783.8 L777.5,786.2 L776.2,775 L770,767.5 L763.8,760 L762.5,751.2 L768.8,742.5 L765,736.2 L760,727.5 L762.5,725Z" fill="#82b5c1"/>
<path class="eu" d="M776.2,785 L790,780 L800,776.2 L810,777.5 L820,776.2 L830,773.8 L835,771.2 L833.8,765 L838.8,763.8 L842.5,766.2 L841.2,777.5 L837.5,788.8 L825,786.2 L815,787.5 L807.5,790 L800,795 L795,798.8 L797.5,803.8 L805,806.2 L800,808.8 L795,807.5 L800,813.8 L793.8,812.5 L788.8,808.8 L792.5,815 L787.5,813.8 L782.5,808.8 L778.8,803.8 L775,807.5 L776.2,813.8 L782.5,820 L787.5,826.2 L790,833.8 L786.2,838.8 L792.5,840 L800,843.8 L807.5,847.5 L815,853.8 L820,858.8 L812.5,857.5 L802.5,851.2 L795,847.5 L788.8,845 L797.5,852.5 L805,857.5 L810,862.5 L811.2,867.5 L805,863.8 L797.5,861.2 L790,857.5 L782.5,855 L775,856.2 L767.5,858.8 L760,861.2 L755,860 L750,853.8 L746.2,848.8 L751.2,846.2 L743.8,845 L738.8,841.2 L733.8,836.2 L731.2,831.2 L736.2,825 L740,817.5 L743.8,808.8 L742.5,801.2 L750,800 L757.5,796.2 L765,791.2 L772.5,788.8Z" fill="#82b5c1"/>
<path class="eu" d="M756.2,870 L762.5,863.8 L770,861.2 L780,862.5 L790,863.8 L795,867.5 L790,870 L795,875 L800,876.2 L797.5,880 L791.2,877.5 L790,883.8 L795,892.5 L798.8,900 L795,898.8 L788.8,890 L785,887.5 L786.2,897.5 L783.8,901.2 L778.8,892.5 L776.2,896.2 L771.2,890 L767.5,882.5 L761.2,877.5Z" fill="#82b5c1"/>
<path d="M811.2,921.2 L817.5,918.8 L825,921.2 L833.8,920 L842.5,918.8 L852.5,920 L865,917.5 L866.2,922.5 L857.5,925 L847.5,927.5 L837.5,930.5 L830,927.5 L820,927 L812,927.5Z" fill="#82b5c1" stroke="#82b5c1" stroke-width="1.4" stroke-linejoin="round"/>
<path d="M890,890 L893.8,883.8 L897.5,881.2 L898,886.2 L893.8,893.8Z M839.3,824.5 L842.2,820.8 L846.7,819.3 L851.1,821.6 L853.4,825.3 L850.4,828.2 L845.9,827.5 L842.2,826.7Z M843,840.8 L845.9,839.3 L848.2,842.3 L848.5,846.8 L846.4,849 L844.5,846Z M860.8,856.4 L864.5,854.9 L868.2,855.4 L866,857.9 L862.3,857.9Z M821.5,809.7 L824.4,809 L826.7,809.7 L825.2,812.7 L822.2,812.4Z M831.9,802.3 L836.3,800.1 L837.1,801.5 L833.3,803.8Z M826.7,796 L829.6,795.6 L829.2,797.1Z M849.7,863.1 L854.8,860.1 L855.6,861.3 L851.1,864.3Z M871.9,877.2 L877.1,874.2 L877.8,875.7 L873.4,878.6Z M834.8,878.6 L837.1,877.9 L837.5,880.1Z M840.8,875.7 L843,874.9 L843.7,879.4 L841.5,880.1Z M823.7,858.6 L828.9,863.1 L831.1,866 L828.2,865.3Z M808,793.8 L811.2,792 L813,795.5 L810,797Z M740,863.8 L743.8,861.2 L746.2,867.5 L742.5,868.8Z M745.5,875 L750,876.2 L748.8,878.8Z M741.2,852.5 L743.8,851.2 L743.8,857.5Z M840,876.2 L843,875 L843.8,878.8 L840.8,880Z M833.8,877.5 L836.2,877 L835.8,880Z M826.2,870 L828.8,870.5 L827.5,873Z M820,872 L822,872.5 L821,874.5Z M841.5,889 L844,889.5 L843,891.5Z M850,862.5 L855,860 L855.5,862 L851.2,864.5Z M873.8,876.2 L877.5,874.5 L878,876.5Z M860,885 L863.8,883.8 L862.5,887Z M821.2,890 L825,889.5 L823.8,892Z M795,905 L798,904.5 L797.5,908Z M880,902.5 L882,901.2 L882.5,910 L880.5,908.8Z M722.5,831.2 L726.2,833.8 L728.8,838.8 L725,836.2Z" fill="#82b5c1" stroke="#82b5c1" stroke-width="1.4" stroke-linejoin="round"/>
<path class="eu" d="M643.8,666.2 L647.5,673.8 L655,677.5 L662.5,682.5 L670,686.2 L680,687.5 L690,683.8 L695,690 L698.8,697.5 L696.2,702.5 L695,707.5 L691.7,705 L683.3,704.2 L673.3,705 L663.3,705.8 L653.3,705 L643.3,706.7 L638.3,710 L639.2,715 L643.3,720 L650,727.5 L656.7,735 L663.3,741.7 L670,750 L676.7,756.7 L683.3,762.5 L690.8,767.5 L686.7,765.8 L681.7,762.5 L675,758.3 L670,754.2 L665,750 L660,747.5 L653.3,746.7 L648.3,743.3 L643.3,736.7 L638.3,731.7 L633.3,728.3 L628.3,721.7 L623.3,715 L618.3,708.3 L613.3,705.3 L611.3,706.7 L609.7,712.5 L607.5,717.5 L603.3,712.5 L600.3,705 L600,697.5 L600,701.2 L606.2,702.5 L612.5,701.2 L618.8,698.8 L625,700 L631.2,696.2 L635,690 L633.8,685 L636.2,680 L640,676.2 L645,672.5Z" fill="#1b656e"/>
<path d="M612.5,706.7 L615.8,708.3 L619.2,715 L621.7,720 L619.2,719.2 L615.8,715 L613.3,710.8Z M618.3,721.7 L623.3,724.2 L630,728.3 L633.3,730 L630.8,730.8 L625,728.3 L620,725Z M625.8,733.3 L630.8,736.7 L635,739.2 L630,738.3Z M653.3,750.8 L661.7,751.7 L662.5,753.3 L655,753.3Z M655,755.8 L666.7,756.7 L671.7,758.3 L663.3,758.3 L656.7,757.5Z M660,760 L668.3,760.8 L664.2,762Z M671.7,762.5 L677.5,763.3 L673.3,764.2Z" fill="#1b656e" stroke="#1b656e" stroke-width="1.4" stroke-linejoin="round"/>
<path class="eu" d="M596.2,682.5 L600,677.5 L610,676.2 L620,675 L630,672.5 L637.5,670 L643.8,666.2 L645,672.5 L640,676.2 L636.2,680 L633.8,685 L635,690 L631.2,696.2 L625,700 L618.8,698.8 L612.5,701.2 L606.2,702.5 L600,701.2 L601.2,695 L597.5,690Z" fill="#1b656e"/>
<path class="eu" d="M495.7,509.5 L497.9,513.4 L496.8,518.9 L495.7,523.4 L493.4,526.7 L489.5,528.4 L490.1,533.4 L492.9,534.5 L492.3,537.8 L489.5,541.2 L489,544.5 L485.6,546.2 L482.3,546.7 L480.1,547.8 L479,551.2 L480.6,555.6 L479,560.1 L476.7,563.4 L475.6,566.8 L474.5,572.3 L472.3,570.6 L472.8,567.9 L474.5,565.6 L472.3,563.4 L469,561.2 L465.6,558.4 L463.4,555.6 L460.6,554.5 L456.7,555.1 L453.4,555.6 L450,556.7 L446.7,558.4 L443.4,557.9 L438.9,556.7 L437.8,555.1 L440,552.3 L443.4,550.1 L444.5,547.8 L447.8,547.3 L451.2,542.3 L454.5,536.7 L457.3,531.2 L458.9,525.6 L460.6,521.1 L462.3,518.4 L467.8,515.6 L472.3,512.8 L475.6,510.6 L481.2,508.9 L487.9,508.4 L492.3,508.9Z" fill="#1b656e"/>
<path class="eu" d="M437.8,555.1 L438.9,556.7 L443.4,557.9 L446.7,558.4 L450,556.7 L453.4,555.6 L456.7,555.1 L460.6,554.5 L463.4,555.6 L465.6,558.4 L469,561.2 L472.3,563.4 L474.5,565.6 L472.8,567.9 L472.3,570.6 L474.5,572.3 L476.7,574.5 L479,577.9 L480.6,581.2 L479.5,585.7 L476.7,587.9 L474,589 L472.3,592.3 L471.7,595.7 L472.8,599.6 L470.1,602.3 L462.3,598 L458.9,595.7 L456.7,590.1 L454.5,586.8 L451.7,589 L447.3,587.9 L445.6,582.3 L440,580.7 L438.9,577.9 L434.5,575.7 L432.2,570.1 L430,567.9 L426.7,566.8 L424.5,561.2 L431.1,557.9Z" fill="#1b656e"/>
<path class="eu" d="M471.5,591.5 L475,587 L480.8,588.5 L483,596 L482,603 L476,604.5 L471.3,600.5Z" fill="#00404a"/>
<path class="eu" d="M545.6,404.5 L544.5,407.2 L546.2,411.7 L545.1,417.2 L543.9,421.7 L542.8,427.3 L543.9,431.7 L547.8,433.9 L550.6,435 L550.6,438.4 L547.8,440.6 L544.5,441.2 L546.2,445.1 L547.3,449.5 L544.5,450.6 L541.2,450.1 L538.9,452.8 L535.6,457.3 L533.4,461.7 L534.5,466.2 L532.3,470.6 L534.5,472.9 L531.1,474.5 L525.6,474.5 L520,473.4 L518.9,468.4 L520.6,462.9 L516.7,458.4 L513.3,455.1 L512.8,448.4 L513.9,441.7 L513.3,436.2 L514.5,431.7 L519.5,433.4 L521.7,429.5 L517.8,428.4 L515.6,426.7 L516.1,423.4 L518.9,420.6 L523.4,418.9 L527.8,418.4 L532.3,416.7 L535.6,411.7 L540,407.8 L543.9,405Z" fill="#00404a"/>
<path d="M537.3,459 L541.2,456.7 L545.6,456.2 L547.8,457.3 L549.5,461.7 L549.5,466.2 L546.7,469.5 L543.4,469 L540,466.2 L537.8,462.9Z M552.3,453.4 L555.6,452.8 L559,448.4 L561.7,447.8 L562.3,451.7 L564.5,449.5 L566.7,445.1 L570.1,443.4 L573.4,443.9 L574,449.5 L573.4,454 L575.1,455.6 L572.3,457.3 L570.6,461.7 L571.2,464.5 L567.9,465.6 L567.3,470.6 L566.2,475.1 L564,472.9 L563.4,467.3 L560.1,465.6 L556.2,464.5 L555.1,459.5 L553.9,456.2Z M553.4,472.9 L556.2,471.8 L559,474 L562.3,475.1 L564,477.3 L560.6,479 L556.7,477.9 L553.9,475.6Z M569,471.8 L571.7,469.5 L574,470.6 L571.2,472.3Z M548.4,476.2 L550.6,468.4 L551.4,469 L549.5,476.8Z M535.6,470.6 L537.8,471.8 L538.9,473.4 L536.7,472.9Z M542.3,472.3 L545.6,474 L544.5,474.5Z M550.6,415 L553.4,413.9 L553.9,415 L551.2,416.1Z M604.6,463.4 L606.2,461.7 L610.1,464 L610.7,466.7 L608.5,468.4 L605.1,466.2Z" fill="#00404a" stroke="#00404a" stroke-width="1.4" stroke-linejoin="round"/>
<path class="eu" d="M632.5,122.5 L636.2,118.8 L650,131.2 L660,138.8 L665,150 L670,160 L675,172.5 L676.2,182.5 L681.2,192.5 L667.5,195 L658.8,207.5 L657.5,222.5 L660,235 L650,252.5 L640,260 L632.5,272.5 L626.2,285 L625,302.8 L623.8,312.5 L627.5,325 L641.8,330 L645.1,336.7 L648.4,342.2 L649,346.7 L645.7,352.2 L646.2,356.7 L642.9,361.1 L639.5,365.6 L634,370 L629.5,374.5 L626.8,377.8 L625.1,382.3 L625.6,390.1 L625.1,399 L625.6,407.9 L624.5,416.8 L622.9,425.7 L621.8,433.4 L620.6,438 L612.5,440 L602.5,445 L597.5,452.5 L593.8,457.5 L582.5,460 L580,455 L578.8,447.5 L575,440 L576.2,432.5 L570,420 L565,407.5 L558.8,395 L553.8,380 L555,373.8 L556.1,373.9 L558.9,374.5 L560.6,365.6 L560,358.9 L561.7,353.4 L566.1,348.9 L568.9,343.3 L570,336.7 L568.4,330 L567.5,322.5 L571.2,315 L566.2,307.5 L563.8,302.8 L565,285 L562.5,267.5 L567.5,255 L582.5,246.2 L577.5,235 L582.5,220 L586.2,197.5 L593.8,190 L600,173.8 L598.8,165 L602.5,153.8 L612.5,147.5 L615,136.2 L628.8,135Z" fill="#4a8d97"/>
<path d="M649,416.8 L646.8,410.1 L646.2,403.4 L648.4,397.9 L652.3,395.1 L655.7,392.8 L659,390.6 L656.8,395.6 L654.6,401.2 L655.7,405.6 L652.9,410.1 L650.7,414.5Z M626.2,435.7 L625.6,430.1 L627.9,422.3 L630.1,414.5 L632.3,409.5 L632.9,412.3 L631.2,420.1 L629.5,427.9 L627.9,434.6Z" fill="#4a8d97" stroke="#4a8d97" stroke-width="1.4" stroke-linejoin="round"/>
<path class="eu" d="M638,115 L642.5,118.8 L648.8,125.5 L657.5,126.2 L665,121.2 L676.2,117 L677,92.5 L687.5,85 L700,91.2 L705,100 L703.8,110 L706.2,120 L715,126.2 L722.5,132.5 L725,137.5 L721.2,150 L730,165 L740,180 L740,192.5 L747.5,205 L753.8,212.5 L755,225 L765,231.2 L775,238.8 L776.2,250 L770,272.5 L760,292.5 L760,292.5 L755,305 L752.5,307.5 L737.5,313.8 L725,321.2 L712.5,328.8 L700,333.8 L692.5,330 L685,325 L680,317.5 L675,305 L671.2,292.5 L667.5,280 L667.5,285 L665,270 L670,257.5 L678.8,243.8 L685,232.5 L690,220 L696.2,211.2 L696.2,203.8 L690,195 L681.2,192.5 L676.2,182.5 L675,172.5 L670,160 L665,150 L660,138.8 L650,131.2 L636.2,118.8Z" fill="#4a8d97"/>
<path d="M655.1,335 L657.3,332.2 L660.7,331.1 L662.9,332.8 L661.2,336.1 L658.5,337.8 L656.2,337.2Z M675,324.5 L677.5,323.8 L678,326.5Z M681.2,330 L684.5,329.5 L683.8,332.5Z" fill="#4a8d97" stroke="#4a8d97" stroke-width="1.4" stroke-linejoin="round"/>
<path class="eu" d="M712.5,352.5 L715,347.5 L730,341.2 L740,337.5 L752.5,336.2 L761.2,334.5 L760,342.5 L756.2,350 L760,357.5 L765,366.2 L767.5,373.8 L765,380 L757.5,382.5 L747.5,377.5 L737.5,375 L730,376.2 L725,378.8 L723.8,371.2 L718.8,372.5 L712.5,366.2 L710,357.5Z" fill="#1b656e"/>
<path d="M692.5,361.2 L696.2,357.5 L701.2,360 L700,365 L695,365Z M691.2,375 L696.2,371.2 L702.5,370 L707.5,366.2 L710,370 L702.5,376.2 L697.5,377.5 L696.2,385 L693.8,380Z" fill="#1b656e" stroke="#1b656e" stroke-width="1.4" stroke-linejoin="round"/>
<path class="eu" d="M725,378.8 L730,376.2 L737.5,375 L747.5,377.5 L757.5,382.5 L765,380 L771.2,383.8 L773.8,392.5 L780,402.5 L783.8,410 L778.8,417.5 L771.2,422.5 L762.5,421.2 L752.5,420 L742.5,418.8 L738.8,416.2 L735,418.8 L725,421.2 L715,421.2 L702.5,422.5 L695,426.2 L688.8,430 L687.5,420 L690,407.5 L695,397.5 L702.5,392.5 L710,397.5 L715,402.5 L722.5,403.8 L726.2,397.5 L725,387.5Z" fill="#1b656e"/>
<path class="eu" d="M688.8,430 L695,426.2 L702.5,422.5 L715,421.2 L725,421.2 L735,418.8 L738.8,416.2 L742.5,418.8 L752.5,420 L762.5,421.2 L771.2,422.5 L770,430 L767.5,438.8 L768.8,441.2 L760,445 L758.8,455 L760,463.8 L752.5,468.8 L747.5,472.5 L737.5,477.5 L732.5,473.8 L726.2,470 L721.2,466.2 L720,458.8 L715,455 L705,452.5 L696.2,451.2 L692.5,446.2 L690,437.5Z" fill="#00404a"/>
<path class="eu" d="M276.5,444 L279,441.9 L282.1,439.4 L284.1,436.8 L288.2,435.3 L292.8,435.3 L295.3,436.3 L296.4,434.8 L299.9,433.3 L303,436.8 L300.4,438.9 L296.4,439.9 L294.3,441.9 L291.3,445.5 L287.2,448 L285.1,449.6 L283.1,452.1 L285.1,455.2 L287.7,459.2 L291.3,461.8 L294.3,460.8 L296.4,458.7 L298.4,459.8 L300.9,463.8 L302.5,466.4 L306,467.9 L305.5,473 L306,478.1 L305,483.2 L304.5,489.3 L304,495.4 L302,500.5 L299.4,504.6 L296.4,508.7 L295.3,510.7 L291.3,509.7 L286.2,510.7 L281.1,511.2 L276,511.7 L270.9,512.8 L266.8,514.3 L262.7,514.3 L258.6,515.8 L253.5,516.8 L248.4,516.8 L243.3,516.8 L240.3,515.8 L242.3,512.8 L238.3,511.7 L235.2,508.7 L234.7,505.1 L238.3,503.6 L236.2,500.5 L237.2,497 L241.3,496.5 L244.4,495.4 L247.4,492.9 L251.5,491.9 L256.6,491.4 L259.7,490.3 L254.6,490.3 L247.4,489.8 L251.5,486.8 L255.6,483.7 L258.6,480.7 L260.2,478.1 L256.6,476.6 L253.5,474 L250,469.9 L249.5,466.9 L252.5,465.9 L255.6,462.8 L258.6,460.8 L255.6,458.7 L253.5,456.2 L250.5,455.2 L254.6,454.7 L255.6,452.6 L254.6,450.1 L258.6,450.1 L262.7,451.1 L267.8,452.6 L272.9,453.1 L277,451.6 L280.6,450.6 L283.1,449.1 L282.1,447 L279,446.5Z" fill="#00404a"/>
<path d="M983.9,891.5 L988.3,888.3 L992.6,886.1 L994.8,881.7 L1000.2,879.6 L1006.7,878.5 L1012.2,875.2 L1016.5,870.9 L1020.9,866.5 L1023,864.3 L1022,868.7 L1017.6,874.1 L1014.3,877.4 L1017.6,881.7 L1015.4,886.1 L1010,887.2 L1006.7,890.4 L1002.4,894.8 L1000.2,899.1 L995.9,898 L990.4,899.1 L986.1,895.9Z" fill="#4a8d97" stroke="#4a8d97" stroke-width="1.4" stroke-linejoin="round"/>
<path d="M622.2,930.3 L625.6,931.1 L624.4,932.8Z M625.6,933.3 L629.2,934.4 L627.8,936.7Z" fill="#00404a" stroke="#00404a" stroke-width="1.4" stroke-linejoin="round"/>
<path d="M568.9,387.8 L570,381.2 L571.1,374.5 L573.9,371.2 L577.3,372.8 L578.4,367.8 L580.6,363.9 L586.2,362.8 L590.1,364.5 L590.1,370 L588.4,376.7 L583.9,380.1 L580.6,383.4 L577.3,382.3 L573.9,385.6 L571.7,387.8Z" fill="#fff" stroke="none"/>
<path d="M593.4,401.2 L592.3,396.7 L593.9,390.1 L596.2,383.4 L599.5,376.7 L601.7,374.5 L602.3,378.9 L601.2,384.5 L598.4,391.2 L596.2,397.9Z" fill="#fff" stroke="none"/>
<path d="M614.5,358.4 L620.6,356.1 L627.3,355 L634,353.4 L636.2,355 L637.3,357.8 L642.9,357.3 L645.7,358.4 L641.8,360.6 L636.2,361.7 L632.9,360.6 L627.3,359.5 L621.8,359.5 L617.3,359.1Z M605.6,363.4 L611.7,362.3 L619,362.3 L615.1,364.5 L611.7,366.2 L608.4,365Z" fill="#fff" stroke="none"/>
<path d="M691.3,114.1 L693.1,108.6 L696.8,103 L699.6,98.4 L701.5,101.2 L699.6,106.7 L702.4,110.4 L697.7,112.3 L694,116Z" fill="#fff" stroke="none"/>
<path d="M465.6,519.5 L470.1,517.8 L471.7,522.3 L474,524.5 L474.5,527.3 L470.6,528.9 L467.3,532.8 L465.1,531.2 L466.2,526.7 L467,522.8Z" fill="#fff" stroke="none"/>
<path d="M756.2,350 L761.2,348.8 L765,355 L767.5,365 L771.2,370 L768.8,373.8 L765,366.2 L760,357.5Z" fill="#fff" stroke="none"/>
<path d="M520,432.8 L522.2,429.5 L523.9,426.1 L525,422.8 L527.6,421.7 L528,425.6 L525.8,428.4 L522.8,431.2Z" fill="#fff" stroke="none"/>
<circle cx="386" cy="766.5" r="3.2" fill="#c4c4c4" stroke="#fff" stroke-width="1"/>
<circle cx="492.5" cy="744.5" r="3.2" fill="#c4c4c4" stroke="#fff" stroke-width="1"/>
<circle cx="530" cy="663" r="3.2" fill="#c4c4c4" stroke="#fff" stroke-width="1"/>
<circle cx="581.5" cy="740" r="3.2" fill="#c4c4c4" stroke="#fff" stroke-width="1"/>
<circle cx="583.5" cy="789.5" r="3.2" fill="#c4c4c4" stroke="#fff" stroke-width="1"/>
</g>
<g class="lbl" filter="url(#tsh)">
<text x="571.2" y="295" font-size="28.5" textLength="50" lengthAdjust="spacingAndGlyphs">71%</text>
<text x="693.8" y="275" font-size="28.5" textLength="52.5" lengthAdjust="spacingAndGlyphs">72%</text>
<text x="713.6" y="365" font-size="19.6" textLength="38.7" lengthAdjust="spacingAndGlyphs">84%</text>
<text x="727.2" y="408.7" font-size="19.6" textLength="37.5" lengthAdjust="spacingAndGlyphs">76%</text>
<text x="710.0" y="450" font-size="23" textLength="40" lengthAdjust="spacingAndGlyphs">91%</text>
<text x="513.8" y="450" font-size="18" textLength="32.5" lengthAdjust="spacingAndGlyphs">86%</text>
<text x="448.8" y="550" font-size="18" textLength="32.5" lengthAdjust="spacingAndGlyphs">82%</text>
<text x="439.0" y="577.5" font-size="18" textLength="31" lengthAdjust="spacingAndGlyphs">78%</text>
<text x="486.0" y="601" font-size="16" textLength="29" lengthAdjust="spacingAndGlyphs">92%</text>
<text x="510.8" y="575" font-size="32" textLength="56.5" lengthAdjust="spacingAndGlyphs">73%</text>
<text x="600.1" y="603.7" font-size="21.5" textLength="38.7" lengthAdjust="spacingAndGlyphs">73%</text>
<text x="647.2" y="545" font-size="30" textLength="57.5" lengthAdjust="spacingAndGlyphs">84%</text>
<text x="260.9" y="492.5" font-size="21.5" textLength="41.5" lengthAdjust="spacingAndGlyphs">95%</text>
<text x="670.0" y="622.5" font-size="19.6" textLength="36" lengthAdjust="spacingAndGlyphs">72%</text>
<text x="592.2" y="658.7" font-size="21.5" textLength="43.5" lengthAdjust="spacingAndGlyphs">54%</text>
<text x="668.8" y="663.7" font-size="23" textLength="43.7" lengthAdjust="spacingAndGlyphs">79%</text>
<text x="602.2" y="692.5" font-size="14.5" textLength="27.5" lengthAdjust="spacingAndGlyphs">76%</text>
<text x="636.0" y="700" font-size="16" textLength="34" lengthAdjust="spacingAndGlyphs">83%</text>
<text x="561.0" y="776" font-size="25" textLength="48" lengthAdjust="spacingAndGlyphs">63%</text>
<text x="764.0" y="678.7" font-size="27" textLength="51" lengthAdjust="spacingAndGlyphs">65%</text>
<text x="787.5" y="755" font-size="21.5" textLength="46" lengthAdjust="spacingAndGlyphs">60%</text>
<text x="741.0" y="838.7" font-size="20" textLength="39" lengthAdjust="spacingAndGlyphs">63%</text>
<text x="385.0" y="681" font-size="30" textLength="56" lengthAdjust="spacingAndGlyphs">63%</text>
<text x="254.0" y="826.5" font-size="28" textLength="54" lengthAdjust="spacingAndGlyphs">81%</text>
<text x="176.5" y="810" font-size="20" textLength="40" lengthAdjust="spacingAndGlyphs">88%</text>
<text x="954.0" y="912" font-size="16" textLength="31" lengthAdjust="spacingAndGlyphs">71%</text>
<text x="630.8" y="950.5" font-size="16" textLength="30.5" lengthAdjust="spacingAndGlyphs">89%</text>
</g>

<!-- title bar -->
<g filter="url(#sh)">
<path d="M-30 26H604Q607.500 26 607.500 29.500V93Q607.500 96.500 604 96.500H-30Z" fill="#3f8f86"/>
<path d="M-30 26H604Q607.500 26 607.500 29.500V91.500H-30Z" fill="#6d6e71"/>
<rect x="-30" y="27" width="52.700" height="65" fill="#1db597"/>
</g>
<text x="53" y="73" font-size="42" font-weight="bold" fill="#fff" textLength="507" lengthAdjust="spacingAndGlyphs">Benefited from the EU?</text>

<!-- legend heading -->
<g font-weight="bold" font-size="19.500" fill="#111" text-anchor="middle" lengthAdjust="spacingAndGlyphs">
<text x="124" y="245" textLength="205" lengthAdjust="spacingAndGlyphs">% of population that</text>
<text x="124" y="269" textLength="199" lengthAdjust="spacingAndGlyphs">thinks their country</text>
<text x="124" y="293.500" textLength="196" lengthAdjust="spacingAndGlyphs">has benefited from</text>
<text x="124" y="317.500" textLength="194" lengthAdjust="spacingAndGlyphs">being a member of</text>
<text x="123" y="342" textLength="67" lengthAdjust="spacingAndGlyphs">the EU</text>
</g>
<!-- legend swatches -->
<g>
<rect x="40.500" y="360.500" width="67.500" height="33.500" rx="3" fill="#c2dde6"/>
<rect x="40.500" y="411" width="67.500" height="33.500" rx="3" fill="#82b5c1"/>
<rect x="40.500" y="461.500" width="67.500" height="33.500" rx="3" fill="#4a8d97"/>
<rect x="40.500" y="512" width="67.500" height="33.500" rx="3" fill="#1b656e"/>
<rect x="40.500" y="562.500" width="67.500" height="33.500" rx="3" fill="#00404a"/>
</g>
<g font-size="22.5" fill="#111" lengthAdjust="spacingAndGlyphs">
<text x="142" y="385.6" textLength="41" lengthAdjust="spacingAndGlyphs">&lt;55</text>
<text x="128.3" y="437.8" textLength="67.7" lengthAdjust="spacingAndGlyphs">55 - 65</text>
<text x="128.3" y="487.2" textLength="67.7" lengthAdjust="spacingAndGlyphs">65 - 75</text>
<text x="128.3" y="537" textLength="67.7" lengthAdjust="spacingAndGlyphs">75 - 85</text>
<text x="142" y="587.7" textLength="41" lengthAdjust="spacingAndGlyphs">&gt;85</text>
</g>
<!-- highest / lowest -->
<text x="40" y="656.500" font-size="20" font-weight="bold" fill="#111" textLength="81" lengthAdjust="spacingAndGlyphs">Highest</text>
<g>
<clipPath id="fc1"><rect x="40" y="670.500" width="50" height="33" rx="4"/></clipPath>
<g clip-path="url(#fc1)"><rect x="40" y="670" width="17" height="34" fill="#78b818"/><rect x="57" y="670" width="16.500" height="34" fill="#f1f1f1"/><rect x="73.500" y="670" width="17" height="34" fill="#ff9c4a"/></g>
</g>
<text x="98" y="686.500" font-size="16.500" fill="#333" textLength="52.500" lengthAdjust="spacingAndGlyphs">Ireland</text>
<text x="98" y="701.500" font-size="12.500" fill="#333" textLength="27" lengthAdjust="spacingAndGlyphs">95%</text>
<text x="40" y="743.500" font-size="20" font-weight="bold" fill="#111" textLength="75" lengthAdjust="spacingAndGlyphs">Lowest</text>
<g>
<clipPath id="fc2"><rect x="40" y="757.500" width="50" height="33" rx="4"/></clipPath>
<g clip-path="url(#fc2)"><rect x="40" y="757" width="50" height="34" fill="#f4525c"/><rect x="40" y="768.500" width="50" height="11" fill="#f3f3f3"/></g>
</g>
<text x="98" y="773" font-size="16.500" fill="#333" textLength="52.500" lengthAdjust="spacingAndGlyphs">Austria</text>
<text x="98" y="788.500" font-size="12.500" fill="#333" textLength="27" lengthAdjust="spacingAndGlyphs">54%</text>
<text x="27" y="942.500" font-size="12.500" font-style="italic" fill="#222" textLength="182" lengthAdjust="spacingAndGlyphs">Source: Eurobarometer, 2021</text>

<!-- brand -->
<g id="brand">
<g filter="url(#ish)">
<circle cx="866.1" cy="39.1" r="13.6" fill="#d9f1ec"/>
<circle cx="866.1" cy="39.1" r="12.2" fill="#2fb39b"/>
<path d="M856.8,34.7 L858.7,31.3 L862.2,30.3 L863.1,32.7 L861.7,34.7 L863.6,36.2 L867.5,34.7 L871.5,37.2 L874.4,39.6 L877.4,43.0 L876.9,47.5 L874.4,45.5 L872.5,42.1 L869.5,40.1 L866.1,39.1 L862.6,39.1 L860.2,41.1 L859.7,44.5 L861.7,47.0 L864.1,49.4 L863.1,50.9 L859.7,49.4 L856.8,45.5 L855.6,40.6Z M869.5,48.4 L872.0,46.5 L873.4,47.9 L871.5,50.4 L869.0,51.2Z" fill="#e9fbf8"/>
</g>
<g filter="url(#ish)">
<rect x="854.3" y="59.1" width="20" height="20" rx="4.6" fill="#fff" stroke="#111" stroke-width="2.2"/>
<circle cx="864.2" cy="69.1" r="4.7" fill="none" stroke="#111" stroke-width="2"/>
<circle cx="870.2" cy="62.9" r="1.3" fill="#111"/>
</g>
<g filter="url(#ish)">
<circle cx="864.1" cy="101.3" r="10.9" fill="#262626"/>
<path transform="translate(0.1 0.9) translate(864 100.5) scale(1.12) translate(-864 -100.5)" d="M870.500 96.300c-.5.200-1 .4-1.500.4.500-.3 1-.8 1.200-1.400-.5.300-1.100.5-1.700.6-.5-.5-1.200-.8-1.900-.8-1.500 0-2.700 1.200-2.700 2.700 0 .2 0 .4.100.6-2.200-.1-4.200-1.200-5.500-2.800-.2.400-.4.900-.4 1.400 0 .9.500 1.700 1.200 2.200-.4 0-.9-.1-1.200-.3 0 1.300.9 2.400 2.100 2.600-.4.100-.8.100-1.200 0 .3 1.100 1.300 1.800 2.500 1.900-1.100.9-2.500 1.300-4 1.100 1.200.8 2.600 1.200 4.100 1.200 4.900 0 7.600-4.100 7.600-7.600v-.3c.5-.4 1-.9 1.300-1.500z" fill="#fff"/>
</g>
<text x="891" y="45.500" font-size="22" fill="#151515" textLength="163.500" lengthAdjust="spacingAndGlyphs">Landgeist.com</text>
<text x="891" y="73" font-size="18.500" fill="#151515" textLength="128" lengthAdjust="spacingAndGlyphs">@Land_geist</text>
<text x="891" y="106" font-size="18.500" fill="#151515" textLength="118" lengthAdjust="spacingAndGlyphs">@Landgeist</text>
</g>
</svg>
</body></html>
